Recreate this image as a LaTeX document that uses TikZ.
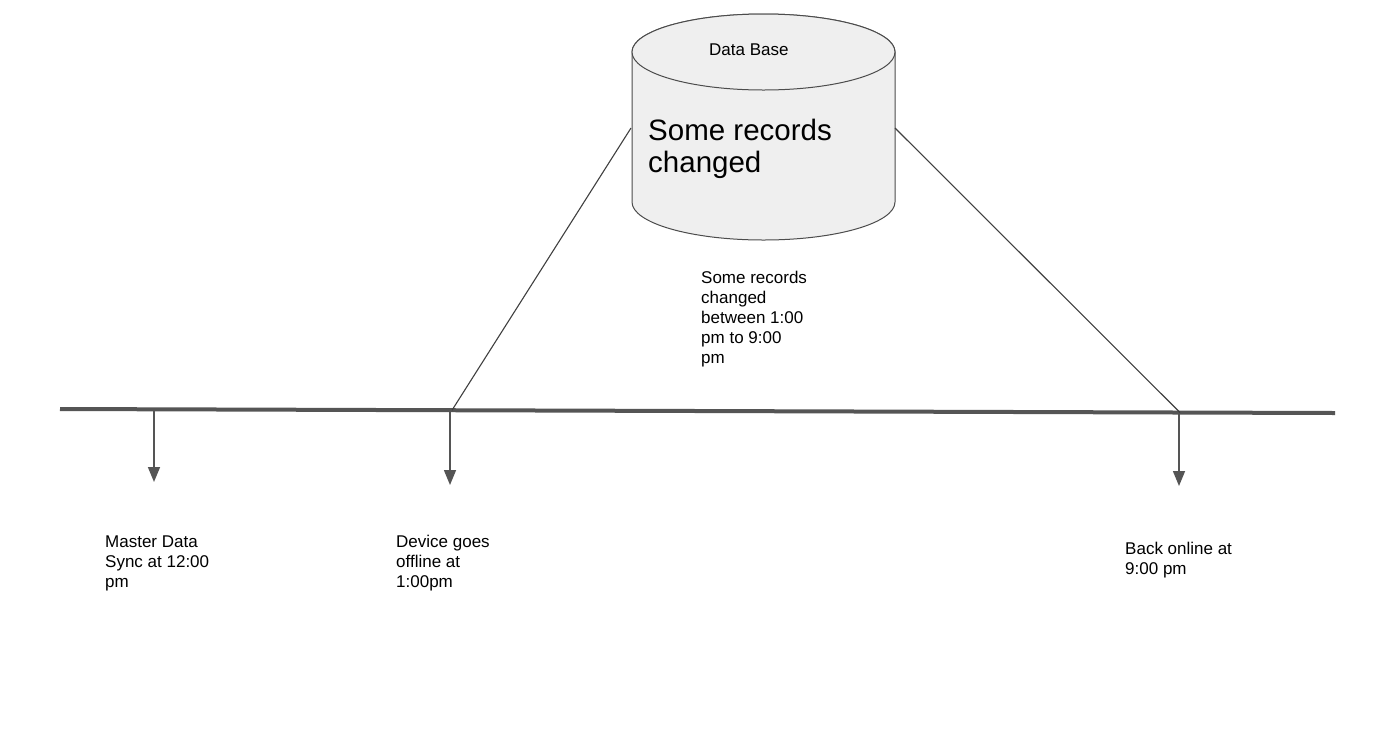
\documentclass[tikz,border=0pt]{standalone}
\usepackage{fontspec}
\setmainfont{Liberation Sans}
\usetikzlibrary{arrows.meta}
\definecolor{lineg}{HTML}{555555}
\definecolor{dbfill}{HTML}{EFEFEF}
\tikzset{
  lbl/.style={anchor=base west, inner sep=0pt, align=left, font=\fontsize{17}{20}\selectfont},
  bigl/.style={anchor=base west, inner sep=0pt, align=left, font=\fontsize{29.5}{32}\selectfont},
  tick/.style={draw=lineg, line width=1.5pt, -{Triangle[width=12pt,length=15pt]}},
  diag/.style={draw=black!75, line width=1.1pt},
  timeline/.style={draw=lineg, line width=4pt},
  dbshape/.style={draw=black!70, line width=1pt, fill=dbfill}
}
\begin{document}
\begin{tikzpicture}[x=1pt,y=-1pt]
\useasboundingbox[fill=white] (0,0) rectangle (1400,729);
% cylinder
\path[dbshape] (632,52) -- (632,202) arc[start angle=180,end angle=0,x radius=131.5,y radius=38] -- (895,52) arc[start angle=0,end angle=-180,x radius=131.5,y radius=38] -- cycle;
\path[dbshape] (763.5,52) ellipse[x radius=131.5,y radius=38];
\node[lbl] (dbtitle) at (709,55) {Data Base};
\node[bigl] (dbtext) at (648,172) {Some records\\changed};
\coordinate (dbL) at (631,128);
\coordinate (dbR) at (895,128);
% timeline
\coordinate (tlA) at (60,409);
\coordinate (tlB) at (1335,413);
\draw[timeline] (tlA) -- (tlB);
\coordinate (t1) at (154,409.3);
\coordinate (t2) at (450,410.2);
\coordinate (t3) at (1179,412.5);
\coordinate (a1) at (154,482);
\coordinate (a2) at (450,485);
\coordinate (a3) at (1179,486);
\draw[tick] (t1) -- (a1);
\draw[tick] (t2) -- (a2);
\draw[tick] (t3) -- (a3);
\draw[diag] (dbL) -- (452,410.2);
\draw[diag] (dbR) -- (1180,412.5);
% labels
\node[lbl] (l1) at (105,587) {Master Data\\Sync at 12:00\\pm};
\node[lbl] (l2) at (396,587) {Device goes\\offline at\\1:00pm};
\node[lbl] (l3) at (1125,574) {Back online at\\9:00 pm};
\node[lbl] (mid) at (701,363) {Some records\\changed\\between 1:00\\pm to 9:00\\pm};
\end{tikzpicture}
\end{document}
